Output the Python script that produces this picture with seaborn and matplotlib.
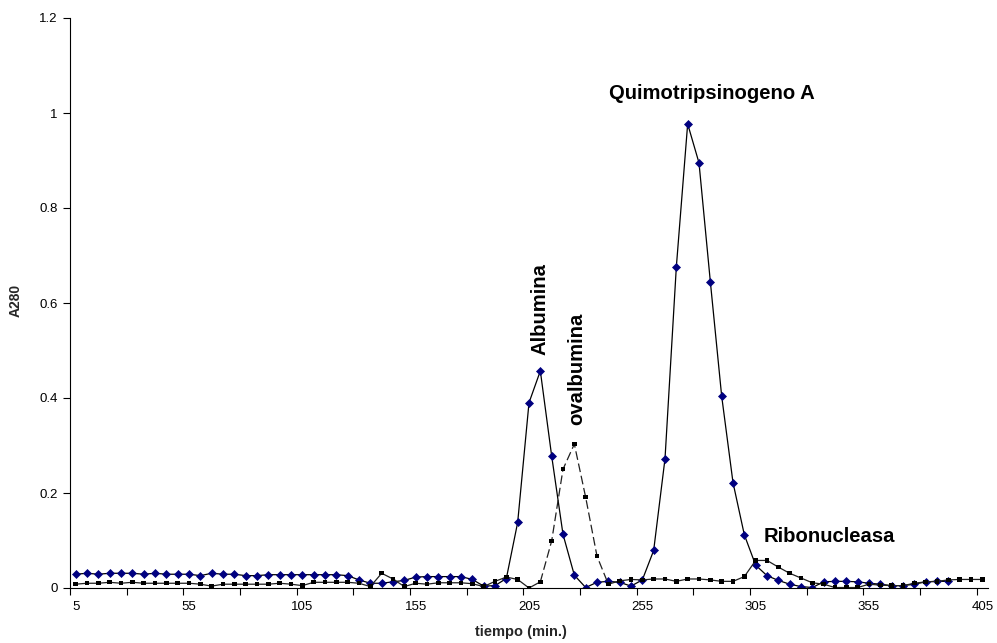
import numpy as np
import pandas as pd
import matplotlib
matplotlib.use("Agg")
import matplotlib.pyplot as plt
import seaborn as sns

# ---------------- data ----------------
tiempo = list(range(5, 410, 5))  # 5 ... 405 min

serie_azul = [  # diamonds, 5 ... 390 min
    0.029, 0.031, 0.029, 0.031, 0.031, 0.031, 0.029, 0.031, 0.029, 0.029,
    0.029, 0.026, 0.031, 0.029, 0.029, 0.026, 0.026, 0.028, 0.028, 0.028,
    0.028, 0.028, 0.028, 0.028, 0.026, 0.017, 0.010, 0.010, 0.013, 0.016,
    0.023, 0.024, 0.024, 0.024, 0.024, 0.018, 0.004, 0.005, 0.020, 0.138,
    0.390, 0.457, 0.278, 0.113, 0.027, 0.001, 0.012, 0.014, 0.012, 0.004,
    0.017, 0.079, 0.272, 0.676, 0.977, 0.895, 0.645, 0.404, 0.222, 0.112,
    0.048, 0.026, 0.016, 0.008, 0.003, 0.001, 0.013, 0.014, 0.014, 0.013,
    0.010, 0.008, 0.005, 0.005, 0.008, 0.013, 0.014, 0.014,
]

serie_negra = [  # squares, 5 ... 405 min
    0.008, 0.010, 0.010, 0.012, 0.010, 0.012, 0.010, 0.010, 0.010, 0.010,
    0.010, 0.008, 0.004, 0.008, 0.008, 0.008, 0.008, 0.008, 0.010, 0.008,
    0.005, 0.012, 0.012, 0.012, 0.012, 0.010, 0.003, 0.031, 0.019, 0.003,
    0.010, 0.008, 0.011, 0.011, 0.011, 0.009, 0.003, 0.014, 0.023, 0.018,
    0.000, 0.013, 0.099, 0.250, 0.303, 0.191, 0.067, 0.008, 0.015, 0.018,
    0.017, 0.019, 0.019, 0.014, 0.019, 0.019, 0.017, 0.014, 0.014, 0.024,
    0.058, 0.058, 0.044, 0.031, 0.021, 0.011, 0.008, 0.001, 0.001, 0.001,
    0.008, 0.006, 0.005, 0.005, 0.010, 0.013, 0.014, 0.017, 0.018, 0.018,
    0.018,
]

x_tick_labels = ["5", "55", "105", "155", "205", "255", "305", "355", "405"]
y_ticks = [0, 0.2, 0.4, 0.6, 0.8, 1.0, 1.2]
y_tick_labels = ["0", "0.2", "0.4", "0.6", "0.8", "1", "1.2"]

anotaciones = [  # (text, x, y, rotation, va)
    ("Albumina", 210, 0.49, 90, "bottom"),
    ("ovalbumina", 226, 0.343, 90, "bottom"),
    ("Quimotripsinogeno A", 285.7, 1.042, 0, "center"),
    ("Ribonucleasa", 337.4, 0.109, 0, "center"),
]

# ---------------- plot ----------------
sns.set_theme(style="white")
plt.rcParams["font.family"] = ["Liberation Sans", "DejaVu Sans"]

fig = plt.figure(figsize=(9.97, 6.43), dpi=100)
fig.patch.set_facecolor("white")
ax = fig.add_axes([70 / 997, 55 / 643, 918 / 997, 570 / 643])
ax.set_facecolor("white")

df_azul = pd.DataFrame({"t": tiempo[:len(serie_azul)], "v": serie_azul})
df_negra = pd.DataFrame({"t": tiempo, "v": serie_negra})

# blue series: thin black line, navy diamonds
sns.lineplot(data=df_azul, x="t", y="v", ax=ax, color="black", lw=0.9,
             marker="D", markersize=4.0, markerfacecolor="#000080",
             markeredgecolor="#000080", markeredgewidth=0.5)

# black series: solid line with dashed stretch around the ovalbumin peak
seg1 = df_negra[df_negra["t"] <= 210]
seg2 = df_negra[(df_negra["t"] >= 210) & (df_negra["t"] <= 240)]
seg3 = df_negra[df_negra["t"] >= 240]
sns.lineplot(data=seg1, x="t", y="v", ax=ax, color="#202020", lw=0.9)
sns.lineplot(data=seg2, x="t", y="v", ax=ax, color="#202020", lw=0.9,
             linestyle=(0, (7, 3)))
sns.lineplot(data=seg3, x="t", y="v", ax=ax, color="#202020", lw=0.9)
sns.scatterplot(data=df_negra, x="t", y="v", ax=ax, color="black",
                marker="s", s=10, edgecolor="none", zorder=5)

ax.set_xlim(2.5, 407.5)
ax.set_ylim(0, 1.2)

# category-style axis: ticks on category boundaries, labels centred
ax.set_xticks(np.arange(2.5, 405, 25))
ax.set_xticklabels([])
ax.set_xticks([int(s) for s in x_tick_labels], minor=True)
ax.set_xticklabels(x_tick_labels, minor=True)
ax.tick_params(axis="x", which="major", direction="out", length=5,
               width=0.8, color="black", bottom=True)
ax.tick_params(axis="x", which="minor", length=0, pad=9, labelsize=9.5,
               labelcolor="black", bottom=True)

ax.set_yticks(y_ticks)
ax.set_yticklabels(y_tick_labels)
ax.tick_params(axis="y", direction="out", length=5, width=0.8,
               color="black", pad=4, labelsize=9.5, labelcolor="black",
               left=True)

for side in ["top", "right"]:
    ax.spines[side].set_visible(False)
for side in ["left", "bottom"]:
    ax.spines[side].set_color("black")
    ax.spines[side].set_linewidth(0.8)

ax.set_xlabel("")
ax.set_ylabel("")
ax.grid(False)

fig.text(521 / 997, 1 - 632 / 643, "tiempo (min.)", ha="center",
         va="center", fontsize=10.5, fontweight="bold")
fig.text(16 / 997, 1 - 300 / 643, "A280", ha="center", va="center",
         rotation=90, fontsize=10, fontweight="bold")

for txt, x, y, rot, va in anotaciones:
    ax.text(x, y, txt, ha="center", va=va, rotation=rot, fontsize=14.6,
            fontweight="bold", color="black")

fig.savefig("out.png", dpi=100, facecolor="white")
